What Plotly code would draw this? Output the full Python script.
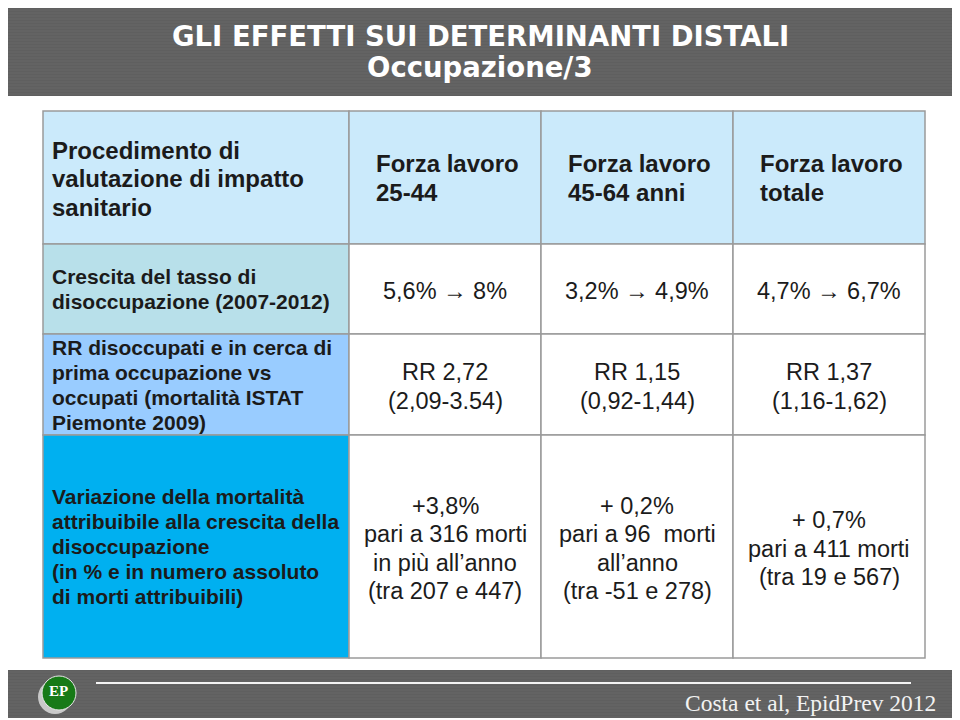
import plotly.graph_objects as go

# slide title
title_lines = ["GLI EFFETTI SUI DETERMINANTI DISTALI", "Occupazione/3"]
source = "Costa et al, EpidPrev 2012"

# table content
corner = ["Procedimento di", "valutazione di impatto", "sanitario"]
columns = [["Forza lavoro", "25-44"],
           ["Forza lavoro", "45-64 anni"],
           ["Forza lavoro", "totale"]]
row_labels = [
    ["Crescita del tasso di", "disoccupazione (2007-2012)"],
    ["RR disoccupati e in cerca di", "prima occupazione vs",
     "occupati (mortalità ISTAT", "Piemonte 2009)"],
    ["Variazione della mortalità", "attribuibile alla crescita della",
     "disoccupazione", "(in % e in numero assoluto", "di morti attribuibili)"],
]
tasso = [["5,6% → 8%"], ["3,2% → 4,9%"], ["4,7% → 6,7%"]]
rr = [["RR 2,72", "(2,09-3.54)"],
      ["RR 1,15", "(0,92-1,44)"],
      ["RR 1,37", "(1,16-1,62)"]]
variazione = [["+3,8%", "pari a 316 morti", "in più all’anno", "(tra 207 e 447)"],
              ["+ 0,2%", "pari a 96  morti", "all’anno", "(tra -51 e 278)"],
              ["+ 0,7%", "pari a 411 morti", "(tra 19 e 567)"]]
body = [tasso, rr, variazione]

# layout of the grid (pixels on a 960x720 canvas)
col_edges = [43, 349, 541, 733, 925]
row_edges = [111, 244, 334, 435, 658]
label_fills = ["#b8e0ea", "#99ccff", "#00b0f0"]
header_fill = "#cbeafb"
grid_color = "#9a9a9a"
text_color = "#1b1b1b"
bar_color = "#5f5f5f"

# the page body has an 8px margin, shift the axes to compensate
offset = 8

fig = go.Figure()
shapes = []
annotations = []


def add_lines(lines, x, yc, spacing, size, bold, xanchor, color=text_color,
              family="Liberation Sans, Arial, sans-serif"):
    n = len(lines)
    for i, t in enumerate(lines):
        y = yc + (i - (n - 1) / 2) * spacing
        annotations.append(dict(
            x=x, y=y, xref="x", yref="y", text=f"<b>{t}</b>" if bold else t,
            showarrow=False, xanchor=xanchor, yanchor="middle",
            font=dict(family=family, size=size, color=color)))


# title bar
shapes.append(dict(type="rect", x0=2, x1=958, y0=2, y1=96,
                   fillcolor=bar_color, line_width=0, layer="below"))
for y in range(4, 96, 3):
    shapes.append(dict(type="line", x0=2, x1=958, y0=y, y1=y,
                       line=dict(color="#686868", width=1), layer="below"))
add_lines(title_lines, 480, 51, 31, 27.5, True, "center", color="white",
          family="DejaVu Sans, Verdana, sans-serif")

# footer bar
shapes.append(dict(type="rect", x0=2, x1=958, y0=670, y1=718,
                   fillcolor=bar_color, line_width=0, layer="below"))
for y in range(672, 718, 3):
    shapes.append(dict(type="line", x0=2, x1=958, y0=y, y1=y,
                       line=dict(color="#686868", width=1), layer="below"))
shapes.append(dict(type="line", x0=96, x1=911, y0=683, y1=683,
                   line=dict(color="#f4f4f4", width=2)))
annotations.append(dict(x=938, y=703, xref="x", yref="y", text=source,
                        showarrow=False, xanchor="right", yanchor="middle",
                        font=dict(family="Liberation Serif, serif", size=23.5,
                                  color="#f2f2f2")))
# logo
shapes.append(dict(type="circle", x0=38, x1=72, y0=680, y1=714,
                   fillcolor="#c9c9c9", line_width=0))
shapes.append(dict(type="circle", x0=42, x1=76, y0=676, y1=710,
                   fillcolor="#177a17", line=dict(color="#e8e8e8", width=1)))
annotations.append(dict(x=58, y=691, xref="x", yref="y", text="<b>EP</b>",
                        showarrow=False, font=dict(family="Liberation Serif, serif",
                                                   size=15, color="white")))

# cell fills
for r in range(4):
    for c in range(4):
        if r == 0:
            fill = header_fill
        elif c == 0:
            fill = label_fills[r - 1]
        else:
            fill = "white"
        shapes.append(dict(type="rect", x0=col_edges[c], x1=col_edges[c + 1],
                           y0=row_edges[r], y1=row_edges[r + 1],
                           fillcolor=fill, line=dict(color=grid_color, width=1.5)))

# header text
yc = (row_edges[0] + row_edges[1]) / 2
add_lines(corner, col_edges[0] + 7, yc + 1, 28.5, 24, True, "left")
for c, lines in enumerate(columns):
    add_lines(lines, col_edges[c + 1] + 25, yc, 29, 24, True, "left")

# body text
for r in range(3):
    yc = (row_edges[r + 1] + row_edges[r + 2]) / 2
    add_lines(row_labels[r], col_edges[0] + 7, yc, 25, 21, True, "left")
    for c in range(3):
        xc = (col_edges[c + 1] + col_edges[c + 2]) / 2
        add_lines(body[r][c], xc, yc + 2, 28.5, 23.5, False, "center")

fig.update_layout(
    width=960, height=720,
    margin=dict(l=0, r=0, t=0, b=0),
    paper_bgcolor="white", plot_bgcolor="white",
    shapes=shapes, annotations=annotations,
    showlegend=False,
)
fig.update_xaxes(range=[offset, 960 + offset], visible=False, fixedrange=True)
fig.update_yaxes(range=[720 + offset, offset], visible=False, fixedrange=True)

fig.write_html("out.html")
